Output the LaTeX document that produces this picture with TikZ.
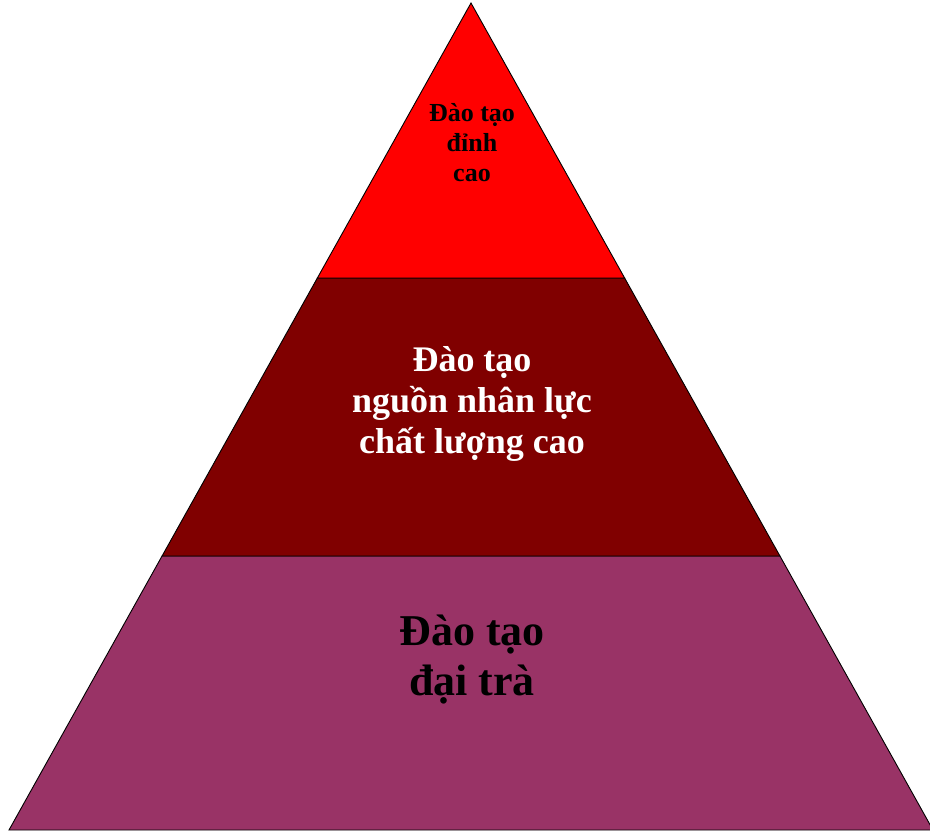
\documentclass[tikz,border=0pt]{standalone}
\usepackage{fontspec}
\setmainfont{Liberation Serif}
\usetikzlibrary{calc}
\definecolor{tiertop}{HTML}{FF0000}
\definecolor{tiermid}{HTML}{800000}
\definecolor{tierbase}{HTML}{993366}
\tikzstyle{tier} = [draw=black, line width=0.9pt, line join=miter]
\tikzstyle{tierlabel} = [align=center, font=\bfseries, inner sep=0pt]

\begin{document}
\begin{tikzpicture}[x=1pt, y=-1pt]
    \clip (0,0) rectangle (930,832);
    \coordinate (apex) at (471,3);
    \coordinate (bl) at (9,830);
    \coordinate (br) at (933,830);
    \coordinate (l1) at ($(apex)!0.3325!(bl)$);
    \coordinate (r1) at ($(apex)!0.3325!(br)$);
    \coordinate (l2) at ($(apex)!0.6687!(bl)$);
    \coordinate (r2) at ($(apex)!0.6687!(br)$);
    % three tiers of the pyramid
    \draw [tier, fill=tierbase] (l2) -- (r2) -- (br) -- (bl) -- cycle;
    \draw [tier, fill=tiermid] (l1) -- (r1) -- (r2) -- (l2) -- cycle;
    \draw [tier, fill=tiertop] (apex) -- (r1) -- (l1) -- cycle;
    % labels
    \node [tierlabel, font=\bfseries\fontsize{26}{30}\selectfont] (toplabel) at (472,143) {Đào tạo\\đỉnh\\cao};
    \node [tierlabel, text=white, font=\bfseries\fontsize{36}{41}\selectfont] (midlabel) at (472,404) {Đào tạo\\nguồn nhân lực\\chất lượng cao};
    \node [tierlabel, font=\bfseries\fontsize{44}{50}\selectfont] (baselabel) at (472,660) {Đào tạo\\đại trà};
\end{tikzpicture}
\end{document}
